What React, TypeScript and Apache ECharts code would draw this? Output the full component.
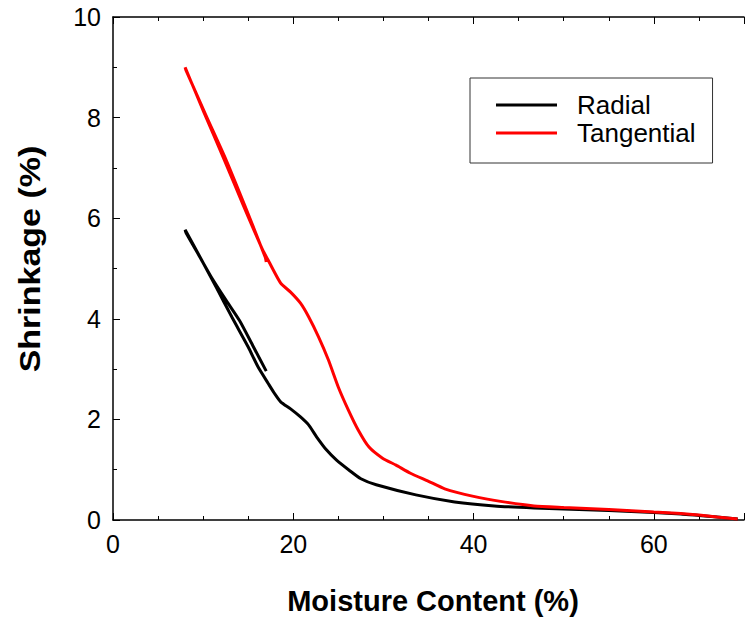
import React, { useEffect, useRef } from "react";
import * as echarts from "echarts";

const xTicks = [0, 20, 40, 60];
const yTicks = [0, 2, 4, 6, 8, 10];

// Tangential: drying from green down to 8 %, then re-wetting to ~17 %
const tangentialX = [69.3, 67, 65, 63, 60, 55, 50, 46.7, 43, 40, 36.8, 35, 33, 31.4, 29.9, 28.4, 27.2, 26.1, 25.0, 23.9, 22.8, 21.7, 20.8, 19.7, 18.6, 17.2, 16.6, 14.4, 12.3, 10.1, 8.0, 8.1, 10.3, 12.4, 14.6, 16.9, 17.0];
const tangentialY = [0.02, 0.06, 0.10, 0.13, 0.16, 0.21, 0.25, 0.28, 0.37, 0.47, 0.62, 0.77, 0.93, 1.09, 1.23, 1.45, 1.79, 2.19, 2.64, 3.18, 3.64, 4.04, 4.31, 4.53, 4.71, 5.17, 5.37, 6.28, 7.18, 8.10, 9.0, 8.94, 8.05, 7.22, 6.26, 5.22, 5.13];

// Radial
const radialX = [69.3, 67, 65, 63, 60, 55, 50, 46.7, 42.3, 37.9, 33.6, 29.2, 27.5, 26.2, 24.8, 23.7, 22.6, 21.7, 20.8, 19.7, 18.6, 17.9, 17.2, 16.1, 15.0, 13.2, 11.5, 9.8, 8.0, 8.1, 9.6, 11.0, 12.5, 14.05, 15.5, 17.0];
const radialY = [0.02, 0.06, 0.09, 0.12, 0.15, 0.19, 0.22, 0.24, 0.28, 0.36, 0.50, 0.70, 0.82, 0.99, 1.19, 1.39, 1.65, 1.89, 2.05, 2.21, 2.35, 2.52, 2.72, 3.04, 3.44, 4.03, 4.61, 5.18, 5.77, 5.71, 5.24, 4.80, 4.38, 3.96, 3.47, 2.96];

const FONT = "'Liberation Sans', Arial, Helvetica, sans-serif";

export default function App() {
  const ref = useRef<HTMLDivElement>(null);
  useEffect(() => {
    if (!ref.current) return;
    const chart = echarts.init(ref.current, undefined, { renderer: "svg" });
    const zip = (xs: number[], ys: number[]) => xs.map((x, i) => [x, ys[i]]);
    const axisCommon = {
      type: "value" as const,
      axisLine: { show: true, onZero: false, lineStyle: { color: "#000", width: 1.5 } },
      axisTick: { show: true, inside: true, length: 7, lineStyle: { color: "#000", width: 1 } },
      minorTick: { show: true, length: 4, lineStyle: { color: "#000", width: 1 } },
      splitLine: { show: false },
      minorSplitLine: { show: false },
    };
    chart.setOption({
      animation: false,
      backgroundColor: "#fff",
      grid: { left: 113, right: -7, top: 17, bottom: 99 },
      xAxis: [
        {
          ...axisCommon,
          position: "bottom",
          min: 0,
          max: 70,
          interval: 20,
          minorTick: { ...axisCommon.minorTick, splitNumber: 4 },
          axisLabel: {
            color: "#000",
            fontSize: 25,
            fontFamily: FONT,
            margin: 11,
            formatter: (v: number) => (xTicks.includes(v) ? String(v) : ""),
          },
        },
        {
          ...axisCommon,
          position: "top",
          min: 0,
          max: 70,
          interval: 20,
          minorTick: { ...axisCommon.minorTick, splitNumber: 4 },
          axisLabel: { show: false },
        },
      ],
      yAxis: {
        ...axisCommon,
        min: 0,
        max: 10,
        interval: 2,
        minorTick: { ...axisCommon.minorTick, splitNumber: 2 },
        axisLabel: {
          color: "#000",
          fontSize: 25,
          fontFamily: FONT,
          margin: 12,
          formatter: (v: number) => (yTicks.includes(v) ? String(v) : ""),
        },
      },
      legend: {
        orient: "vertical",
        left: 470,
        top: 78,
        padding: [14, 17, 17, 26],
        itemWidth: 61,
        itemHeight: 22,
        itemGap: 2,
        icon: "path://M0,0H61V3H0Z",
        borderColor: "#333",
        borderWidth: 1,
        backgroundColor: "#fff",
        textStyle: { color: "#000", fontSize: 26, fontFamily: FONT, padding: [0, 0, 0, 15] },
        data: ["Radial", "Tangential"],
      },
      graphic: [
        {
          type: "text",
          x: 433,
          y: 601,
          style: {
            text: "Moisture Content (%)",
            fontSize: 29,
            fontWeight: "bold",
            fontFamily: FONT,
            fill: "#000",
            textAlign: "center",
            textVerticalAlign: "middle",
          },
        },
        {
          type: "text",
          x: 30,
          y: 259,
          rotation: Math.PI / 2,
          scaleY: 0.85,
          style: {
            text: "Shrinkage (%)",
            fontSize: 34,
            fontWeight: "bold",
            fontFamily: FONT,
            fill: "#000",
            textAlign: "center",
            textVerticalAlign: "middle",
          },
        },
      ],
      series: [
        {
          name: "Radial",
          type: "line",
          data: zip(radialX, radialY),
          symbol: "none",
          smooth: 0.2,
          color: "#000",
          lineStyle: { color: "#000", width: 3 },
        },
        {
          name: "Tangential",
          type: "line",
          data: zip(tangentialX, tangentialY),
          symbol: "none",
          smooth: 0.2,
          color: "#ff0000",
          lineStyle: { color: "#ff0000", width: 3 },
        },
      ],
    });
    return () => chart.dispose();
  }, []);
  return (
    <div
      ref={ref}
      style={{ position: "fixed", left: 0, top: 0, width: 747, height: 619 }}
    />
  );
}
